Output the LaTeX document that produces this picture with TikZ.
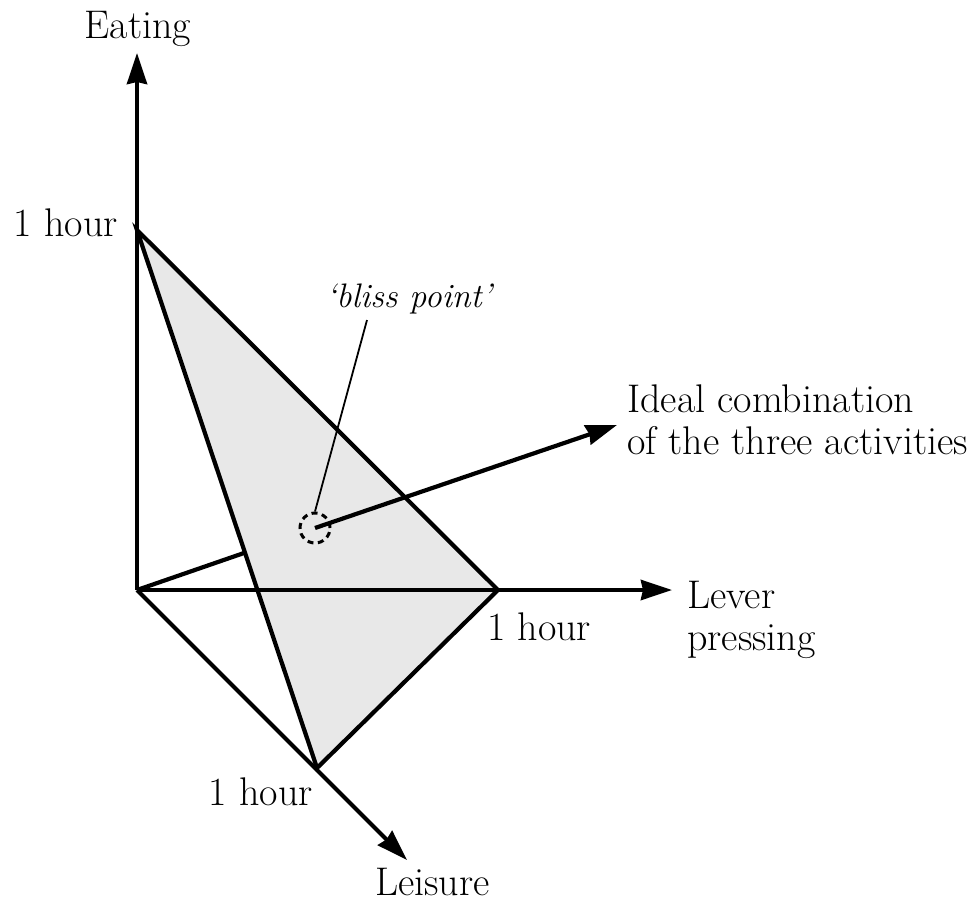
\documentclass[tikz,border=0pt]{standalone}
\usetikzlibrary{arrows.meta}
\begin{document}
\begin{tikzpicture}[x=1pt,y=-1pt,
  axis/.style={line width=4.2pt, -{Stealth[length=31pt,width=20pt,inset=2pt]}},
  edge/.style={line width=4.2pt, line join=miter},
  lab/.style={inner sep=0pt, font=\fontsize{40}{42}\selectfont},
  blab/.style={inner sep=0pt, font=\fontsize{34}{38}\selectfont\itshape}]
\useasboundingbox (0,0) rectangle (972,910);
% points
\coordinate (O) at (137,590);
\coordinate (E1) at (137,230);
\coordinate (L1) at (498,590);
\coordinate (S1) at (317,768);
\coordinate (Etip) at (137,53);
\coordinate (Ltip) at (672,590);
\coordinate (Stip) at (407,860);
\coordinate (B) at (315,528);
\coordinate (H) at (244,553);
\coordinate (Itip) at (617,425);
% hidden part of line to bliss point
\draw[edge] (O) -- (H);
% shaded plane
\fill[gray!18] (E1) -- (L1) -- (S1) -- cycle;
% axes
\draw[axis] (O) -- (Etip);
\draw[axis] (O) -- (Ltip);
\draw[axis] (O) -- (Stip);
% plane edges
\draw[edge] (E1) -- (L1) -- (S1) -- cycle;
% bliss point
\node[circle, draw, line width=3pt, minimum size=30pt, inner sep=0pt, dash pattern=on 6pt off 4.5pt] (bp) at (B) {};
\draw[axis] (B) -- (Itip);
\node[blab, anchor=base] (bl) at (409,307) {`bliss point'};
\coordinate (lt) at (367,320);
\draw[line width=1.8pt] (lt) -- (bp.north);
% labels
\node[lab, anchor=base] (eat) at (138,38) {Eating};
\node[lab, anchor=base east] (e1) at (118,236) {1 hour};
\node[lab, anchor=base west] (l1) at (487,640) {1 hour};
\node[lab, anchor=base east] (s1) at (313,805) {1 hour};
\node[lab, anchor=base west] (lei) at (375,895) {Leisure};
\node[lab, anchor=north west, align=left] (lev) at (687,581) {Lever\\pressing};
\node[lab, anchor=north west, align=left] (ideal) at (627,385) {Ideal combination\\of the three activities};
\end{tikzpicture}
\end{document}
